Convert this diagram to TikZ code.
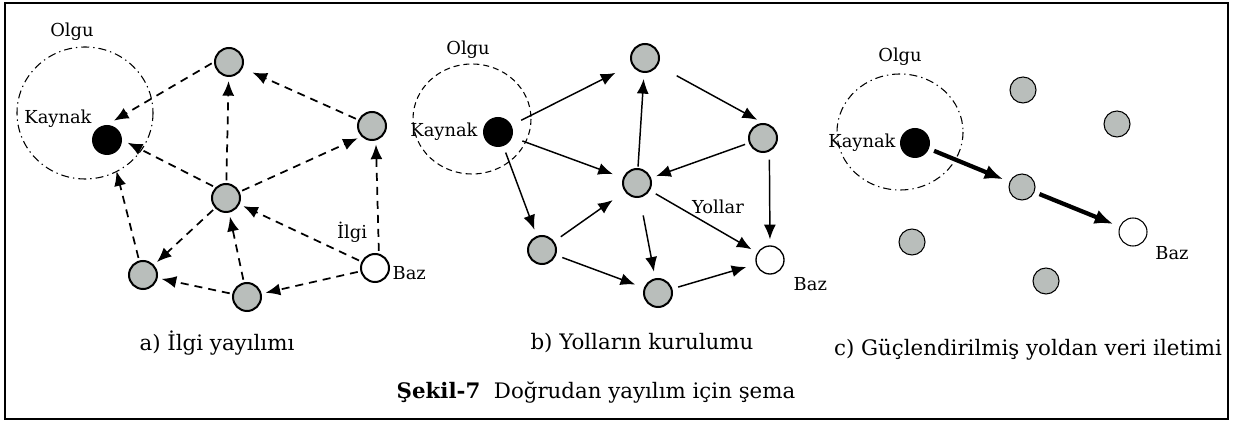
\documentclass[tikz,border=0pt]{standalone}
\usepackage{fontspec}
\setmainfont{DejaVu Serif}
\usetikzlibrary{arrows.meta}
\definecolor{nodegray}{RGB}{185,190,187}

\begin{document}
\begin{tikzpicture}[x=0.75pt,y=-0.75pt,>={Latex[length=11pt,width=9pt]},
	sensor/.style={circle,draw,line width=1.5pt,fill=nodegray,minimum size=21pt,inner sep=0pt},
	source/.style={circle,fill=black,minimum size=22.5pt,inner sep=0pt},
	sink/.style={circle,draw,line width=1.5pt,fill=white,minimum size=21pt,inner sep=0pt},
	interest/.style={->,line width=1.3pt,dash pattern=on 6pt off 4.5pt,shorten >=3pt,shorten <=2pt},
	gradient/.style={->,line width=1.1pt,shorten >=5pt,shorten <=5pt},
	reinforced/.style={-{Latex[length=14pt,width=11pt]},line width=3.2pt,shorten >=5pt,shorten <=4pt},
	small/.style={font=\fontsize{13.4}{15}\selectfont},
	caption/.style={font=\fontsize{16}{19}\selectfont}]

\useasboundingbox (0,0) rectangle (1235,423);
\draw[line width=1.5pt] (5,3) rectangle (1228,419);

% a) interest
\draw[line width=0.8pt,dash pattern=on 6pt off 3pt on 1pt off 3pt] (85,113) ellipse[x radius=68, y radius=66];
\node[small] (olgua) at (72,32) {Olgu};
\node[small] (kaynaka) at (58,119) {Kaynak};
\node[source] (ka) at (107,140) {};
\node[sensor] (at) at (229,62) {};
\node[sensor] (ar) at (372,126) {};
\node[sensor] (ac) at (226,198) {};
\node[sensor] (abl) at (143,275) {};
\node[sensor] (ab) at (247,297) {};
\node[sink] (az) at (375,268) {};
\node[small] (ilgi) at (352,232) {İlgi};
\node[small,anchor=west] (baza) at (388,273) {Baz};

\draw[interest,shorten >=6pt] (at.west) -- (ka.north);
\draw[interest,shorten >=4.5pt] (ac.north west) -- (ka.east);
\draw[interest,shorten >=13pt] (abl.105) -- (ka.-70);
\draw[interest] (ac) -- (at);
\draw[interest,shorten >=8pt] (ar) -- (at);
\draw[interest] (ac) -- (ar.south west);
\draw[interest] (az.75) -- (ar.-75);
\draw[interest] (az) -- (ac);
\draw[interest] (ac) -- (abl);
\draw[interest] (ab) -- (ac);
\draw[interest] (ab) -- (abl);
\draw[interest] (az) -- (ab);

% b) gradients
\draw[line width=0.8pt,dash pattern=on 4.5pt off 3pt] (472,119) ellipse[x radius=59, y radius=55];
\node[small] (olgub) at (468,50) {Olgu};
\node[small] (kaynakb) at (444,132) {Kaynak};
\node[source] (kb) at (498,132) {};
\node[sensor] (bt) at (645,58) {};
\node[sensor] (br) at (763,138) {};
\node[sensor] (bc) at (637,183) {};
\node[sensor] (bbl) at (542,250) {};
\node[sensor] (bb) at (658,293) {};
\node[sink,line width=1pt] (bz) at (770,260) {};
\node[small] (yollar) at (718,207) {Yollar};
\node[small,anchor=west] (bazb) at (789,284) {Baz};

\draw[gradient,shorten >=13.5pt,shorten <=8pt] (kb) -- (bt);
\draw[gradient,shorten >=8pt,shorten <=8pt] (kb) -- (bc);
\draw[gradient] (kb) -- (bbl);
\draw[gradient,shorten >=4.5pt,shorten <=1pt] (bc) -- (bt);
\draw[gradient,shorten <=16pt] (bt.-30) -- (br.north);
\draw[gradient,shorten >=4pt,shorten <=3pt] (br) -- (bc);
\draw[gradient,shorten <=6pt,shorten >=4.5pt] (br.-65) -- (bz.north);
\draw[gradient] (bc) -- (bz);
\draw[gradient,shorten <=13.5pt] (bc) -- (bb);
\draw[gradient,shorten >=11pt,shorten <=6pt] (bbl) -- (bc);
\draw[gradient,shorten >=7pt] (bbl) -- (bb);
\draw[gradient,shorten >=7.5pt,shorten <=4.5pt] (bb) -- (bz);

% c) reinforced path
\draw[line width=0.8pt,dash pattern=on 6pt off 3pt on 1pt off 3pt] (900,132) ellipse[x radius=63, y radius=58];
\node[small] (olguc) at (900,57) {Olgu};
\node[small] (kaynakc) at (862,143) {Kaynak};
\node[source] (kc) at (915,143) {};
\foreach \n/\x/\y in {c1/1023/90,c2/1117/124,cm/1022/187,c3/912/242,c4/1046/281}{
	\node[sensor,line width=0.8pt,minimum size=19.5pt] (\n) at (\x,\y) {};
}
\node[sink,line width=0.8pt] (cz) at (1133,232) {};
\node[small] (bazc) at (1172,253) {Baz};

\draw[reinforced] (kc) -- (cm);
\draw[reinforced] (cm) -- (cz);

% captions
\node[caption] (capa) at (217,343) {a) İlgi yayılımı};
\node[caption] (capb) at (642,343) {b) Yolların kurulumu};
\node[caption] (capc) at (1028,350) {c) Güçlendirilmiş yoldan veri iletimi};
\node[caption] (sekil) at (596,392) {{\bfseries Şekil-7}~~Doğrudan yayılım için şema};

\end{tikzpicture}
\end{document}
